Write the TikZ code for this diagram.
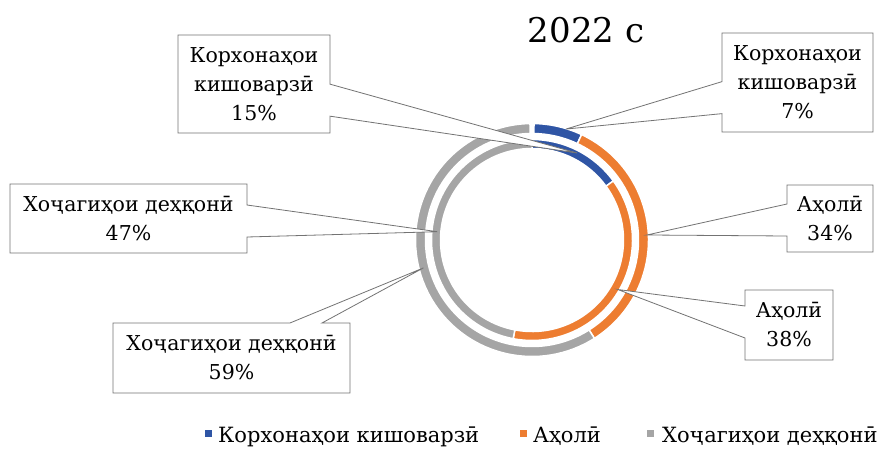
\documentclass[tikz,border=0pt]{standalone}
\usepackage{fontspec}
\setmainfont{DejaVu Serif}
\usetikzlibrary{calc,shapes.callouts,positioning}

\definecolor{korblue}{RGB}{47,85,165}
\definecolor{aholorange}{RGB}{237,125,49}
\definecolor{khojgray}{RGB}{165,165,165}

% one piece of a ring: inner r, outer r, from, to, colour
\newcommand{\ringpart}[5]{%
  \fill[#5, draw=white, line width=1.5pt] ($(c)+(#3:#2pt)$)
    arc[start angle=#3, end angle=#4, radius=#2pt]
    -- ($(c)+(#4:#1pt)$)
    arc[start angle=#4, end angle=#3, radius=#1pt] -- cycle;}

\tikzset{
  lbl/.style={rectangle callout, draw=black!55, fill=white, line width=0.8pt,
    align=center, inner sep=0pt, callout pointer width=32pt,
    font=\fontsize{20.5}{29}\selectfont},
  keybox/.style={minimum size=7pt, inner sep=0pt},
  keytext/.style={anchor=base west, inner sep=0pt, font=\fontsize{21}{26}\selectfont}
}

\begin{document}
\begin{tikzpicture}[x=1pt,y=1pt]
  \useasboundingbox (0,0) rectangle (882,448);
  \coordinate (c) at (532,208);

  \node[anchor=base, font=\fontsize{34}{40}\selectfont] (title) at (586,405) {2022 с};

  % outer ring
  \ringpart{106.5}{116.5}{89}{64.8}{korblue}
  \ringpart{106.5}{116.5}{64.8}{-57.6}{aholorange}
  \ringpart{106.5}{116.5}{-57.6}{-269}{khojgray}
  % inner ring
  \ringpart{91.5}{100.5}{90}{36}{korblue}
  \ringpart{91.5}{100.5}{36}{-100.8}{aholorange}
  \ringpart{91.5}{100.5}{-100.8}{-270}{khojgray}

  \coordinate (t7) at ($(c)+(73:116pt)$);
  \coordinate (t15) at ($(c)+(62.6:98pt)$);
  \coordinate (t34) at ($(c)+(2.5:115pt)$);
  \coordinate (t38) at ($(c)+(-30:99pt)$);
  \coordinate (t47) at ($(c)+(175:95pt)$);
  \coordinate (t59) at ($(c)+(194.4:112pt)$);

  \node[lbl, minimum width=152pt, minimum height=98pt, callout absolute pointer={(t15)}] (b15) at (254,364) {Корхонаҳои\\кишоварзӣ\\15\%};
  \node[lbl, minimum width=151pt, minimum height=99pt, callout absolute pointer={(t7)}] (b7) at (797.5,365.5) {Корхонаҳои\\кишоварзӣ\\7\%};
  \node[lbl, minimum width=237pt, minimum height=69pt, callout absolute pointer={(t47)}] (b47) at (128.5,229.5) {Хоҷагиҳои деҳқонӣ\\47\%};
  \node[lbl, minimum width=237pt, minimum height=70pt, callout absolute pointer={(t59)}] (b59) at (231.5,90) {Хоҷагиҳои деҳқонӣ\\59\%};
  \node[lbl, minimum width=86pt, minimum height=67pt, callout absolute pointer={(t34)}] (b34) at (830,229.5) {Аҳолӣ\\34\%};
  \node[lbl, minimum width=88pt, minimum height=70pt, callout absolute pointer={(t38)}] (b38) at (789,123) {Аҳолӣ\\38\%};

  % legend
  \node[keybox, fill=korblue] (k1) at (208.5,14.5) {};
  \node[keytext] (l1) at (218,6) {Корхонаҳои кишоварзӣ};
  \node[keybox, fill=aholorange] (k2) at (523.5,14.5) {};
  \node[keytext] (l2) at (533,6) {Аҳолӣ};
  \node[keybox, fill=khojgray] (k3) at (650,14.5) {};
  \node[keytext] (l3) at (662,6) {Хоҷагиҳои деҳқонӣ};
\end{tikzpicture}
\end{document}
